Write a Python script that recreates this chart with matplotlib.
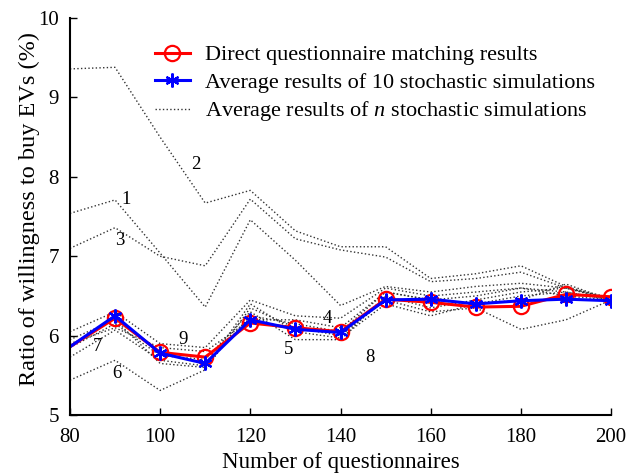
import numpy as np
import matplotlib
matplotlib.use("Agg")
import matplotlib.pyplot as plt

plt.rcParams.update({
    "font.family": "Liberation Serif",
    "font.size": 15,
    "mathtext.fontset": "custom",
    "mathtext.rm": "Liberation Serif",
    "mathtext.it": "Liberation Serif:italic",
})

# ── Data ──────────────────────────────────────────────────────────────────────
n_quest = np.arange(80, 201, 10)

direct = [5.86, 6.22, 5.79, 5.73, 6.16, 6.10, 6.05, 6.46, 6.42, 6.36, 6.37, 6.52, 6.49]
avg10  = [5.86, 6.25, 5.78, 5.65, 6.20, 6.08, 6.04, 6.45, 6.46, 6.40, 6.44, 6.46, 6.44]

# average results of n stochastic simulations, curves 1..9
sim_runs = [
    [7.54, 7.71, 7.04, 6.36, 7.46, 6.95, 6.38, 6.62, 6.55, 6.62, 6.66, 6.60, 6.48],
    [9.36, 9.38, 8.50, 7.67, 7.83, 7.32, 7.12, 7.12, 6.72, 6.78, 6.88, 6.62, 6.46],
    [7.10, 7.36, 7.00, 6.88, 7.72, 7.22, 7.08, 6.99, 6.68, 6.72, 6.80, 6.60, 6.46],
    [6.05, 6.30, 5.90, 5.85, 6.45, 6.25, 6.22, 6.60, 6.50, 6.55, 6.60, 6.55, 6.45],
    [5.85, 6.15, 5.75, 5.70, 6.30, 5.95, 5.95, 6.50, 6.35, 6.45, 6.55, 6.60, 6.45],
    [5.44, 5.69, 5.31, 5.57, 6.35, 6.10, 6.00, 6.45, 6.30, 6.35, 6.08, 6.20, 6.45],
    [5.73, 6.07, 5.69, 5.62, 6.25, 6.15, 6.05, 6.55, 6.45, 6.40, 6.50, 6.55, 6.45],
    [5.95, 6.20, 5.65, 5.60, 6.40, 6.05, 5.97, 6.40, 6.25, 6.40, 6.45, 6.65, 6.45],
    [5.90, 6.10, 5.85, 5.80, 6.20, 6.20, 6.10, 6.55, 6.45, 6.50, 6.60, 6.50, 6.45],
]

# label positions (x, y) for curve numbers
run_labels = ["1", "2", "3", "4", "5", "6", "7", "8", "9"]
label_pos = [(92.5, 7.72), (108, 8.15), (91, 7.2), (137, 6.22), (128.5, 5.82),
             (90.5, 5.52), (86, 5.86), (146.5, 5.72), (105, 5.95)]

fig = plt.figure(figsize=(6.3, 4.76), dpi=100)
ax = fig.add_axes([0.111, 0.128, 0.859, 0.834])

for i, run in enumerate(sim_runs):
    ax.plot(n_quest, run, ls=":", color="0.2", lw=1.0,
            label="Average results of $n$ stochastic simulations" if i == 0 else None)

ax.plot(n_quest, direct, color="red", lw=2.2, marker="o", ms=11, mfc="none",
        mec="red", mew=1.6, markevery=slice(1, None),
        label="Direct questionnaire matching results")
ax.plot(n_quest, avg10, color="blue", lw=2.2, marker=(6, 2, 0), ms=10,
        mec="blue", mew=1.6, markevery=slice(1, None),
        label="Average results of 10 stochastic simulations")

for lab, (lx, ly) in zip(run_labels, label_pos):
    ax.text(lx, ly, lab, fontsize=13.5, ha="center", va="center")

handles, labels = ax.get_legend_handles_labels()
order = [1, 2, 0]
ax.legend([handles[k] for k in order], [labels[k] for k in order],
          loc="upper left", bbox_to_anchor=(0.14, 0.955), frameon=False,
          numpoints=1, handlelength=1.6, handletextpad=0.65,
          labelspacing=0.3, borderaxespad=0, fontsize=16)

ax.set_xlim(80, 200)
ax.set_ylim(5, 10)
ax.set_xticks(range(80, 201, 20))
ax.set_yticks(range(5, 11))
ax.set_xlabel("Number of questionnaires", fontsize=16.5, labelpad=4)
ax.set_ylabel("Ratio of willingness to buy EVs (%)", fontsize=17.5)
ax.yaxis.set_label_coords(-0.056, 0.52)
ax.spines["top"].set_visible(False)
ax.spines["right"].set_visible(False)
ax.spines["left"].set_linewidth(1.5)
ax.spines["bottom"].set_linewidth(1.5)
ax.tick_params(direction="in", length=5, width=1, labelsize=15)
ax.tick_params(axis="x", pad=9)
ax.tick_params(axis="y", pad=8)

fig.savefig("out.png", dpi=100)
